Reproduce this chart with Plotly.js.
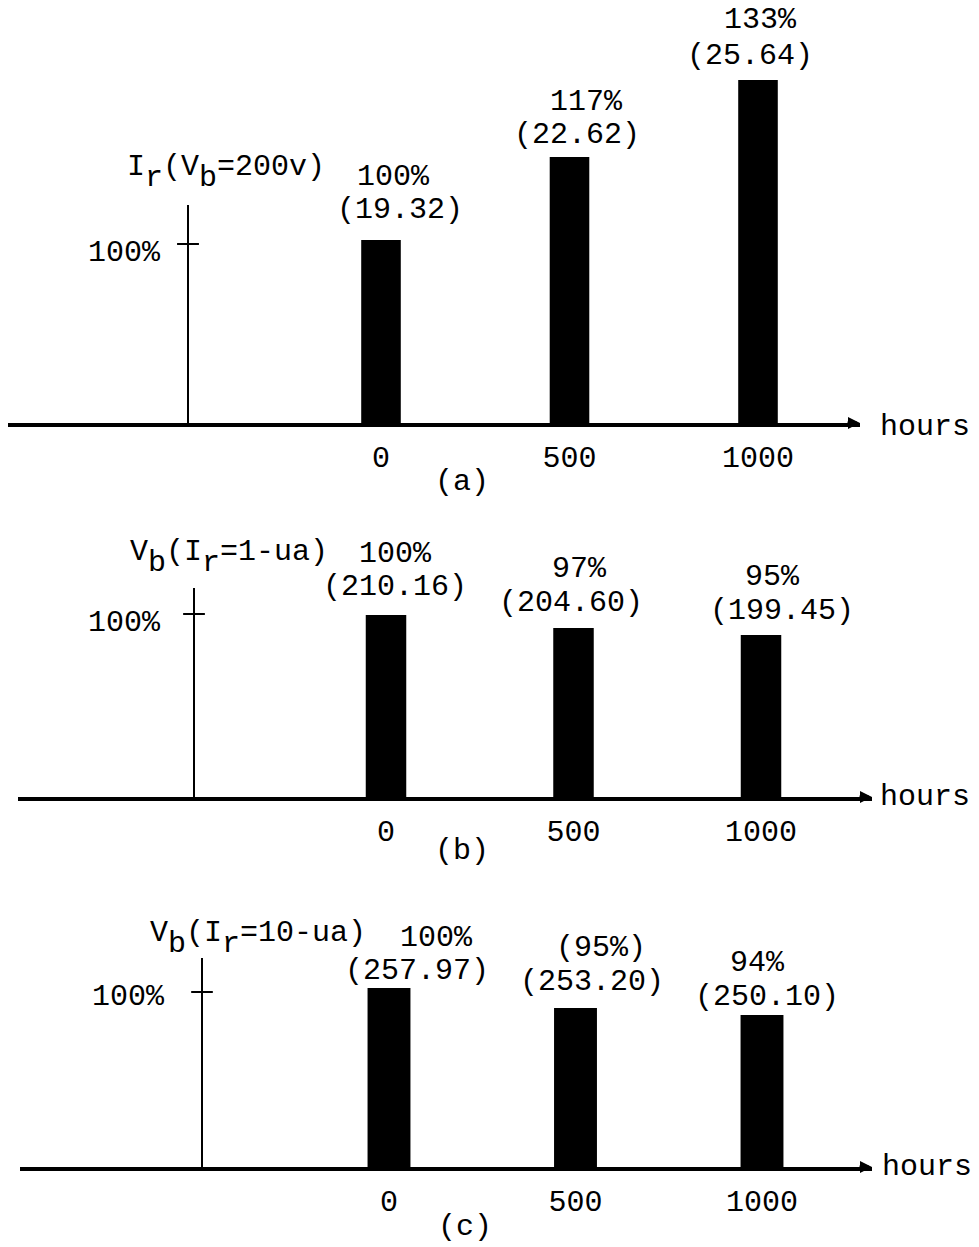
<!DOCTYPE html>
<html>
<head>
<meta charset="utf-8">
<script src="https://cdn.plot.ly/plotly-3.0.1.min.js"></script>
<style>html,body{margin:0;padding:0;background:#fff;}</style>
</head>
<body>
<div id="chart" style="width:979px;height:1247px;"></div>
<script>
// ---------- data ----------
const hours = [0, 500, 1000];
const hourLabels = ['0', '500', '1000'];

// panel (a): Ir (Vb = 200 v)
const pctA = ['100%', '117%', '133%'];
const valA = ['(19.32)', '(22.62)', '(25.64)'];
const drawnA = [102.2, 148.6, 191.6];   // bar heights as drawn, in units of the 100% tick

// panel (b): Vb (Ir = 1-ua)
const pctB = ['100%', '97%', '95%'];
const valB = ['(210.16)', '(204.60)', '(199.45)'];
const drawnB = [99.5, 92.3, 88.5];

// panel (c): Vb (Ir = 10-ua)
const pctC = ['100%', '(95%)', '94%'];
const valC = ['(257.97)', '(253.20)', '(250.10)'];
const drawnC = [102.3, 90.9, 86.9];

const titles = [
  'I<sub><sub><span style="font-size:30px">r</span></sub></sub>(V<sub><sub><span style="font-size:30px">b</span></sub></sub>=200v)',
  'V<sub><sub><span style="font-size:30px">b</span></sub></sub>(I<sub><sub><span style="font-size:30px">r</span></sub></sub>=1-ua)',
  'V<sub><sub><span style="font-size:30px">b</span></sub></sub>(I<sub><sub><span style="font-size:30px">r</span></sub></sub>=10-ua)'
];
const captions = ['(a)', '(b)', '(c)'];
const unitLabel = 'hours';
const tickLabel = '100%';

// ---------- layout geometry (styles / positions, pixels) ----------
const W = 979, H = 1247;
const FONT = 'Liberation Mono, Courier New, monospace';
const panels = [
  {pct: pctA, val: valA, h: drawnA, left: 8, right: 860, c0: 381, slope: 0.377, base: 423, top: 0, ppu: 1.79,
   barW: 105, vaxPx: 188, vaxTopPx: 205, tickLblRight: 163, tickLblDy: -9,
   titleLeft: 125, titleDy: 8, capX: 462, capY: 482, unitDx: 18, unitDy: -4,
   off: [[12, 63, 19, 30], [17, 55, 7, 22], [2, 60, -8, 24]]},
  {pct: pctB, val: valB, h: drawnB, left: 18, right: 872, c0: 386, slope: 0.375, base: 797, top: 500, ppu: 1.83,
   barW: 108, vaxPx: 194, vaxTopPx: 588, tickLblRight: 163, tickLblDy: -9,
   titleLeft: 128, titleDy: 6, capX: 462, capY: 851, unitDx: 6, unitDy: 0,
   off: [[9, 61, 9, 28], [6, 59, -3, 25], [11, 58, 21, 24]]},
  {pct: pctC, val: valC, h: drawnC, left: 20, right: 872, c0: 389, slope: 0.373, base: 1167, top: 880, ppu: 1.75,
   barW: 115, vaxPx: 202, vaxTopPx: 958, tickLblRight: 167, tickLblDy: -5,
   titleLeft: 148, titleDy: -5, capX: 465, capY: 1227, unitDx: 8, unitDy: 0,
   off: [[47, 50, 28, 17], [25, 60, 16, 26], [-5, 52, 5, 18]]}
];

const traces = [];
const layout = {
  width: W, height: H,
  margin: {l: 0, r: 0, t: 0, b: 0},
  paper_bgcolor: '#fff', plot_bgcolor: 'rgba(0,0,0,0)',
  showlegend: false,
  font: {family: FONT, color: '#000', size: 30},
  annotations: [], shapes: []
};

panels.forEach((p, i) => {
  const n = i === 0 ? '' : String(i + 1);
  const xa = 'x' + n, ya = 'y' + n;
  const x0 = (p.left - p.c0) / p.slope, x1 = (p.right - p.c0) / p.slope;
  const yMax = (p.base - p.top) / p.ppu;
  const vaxX = (p.vaxPx - p.c0) / p.slope;
  const vaxTop = (p.base - p.vaxTopPx) / p.ppu;

  traces.push({
    type: 'bar', x: hours, y: p.h, xaxis: xa, yaxis: ya,
    width: p.barW, marker: {color: '#000', line: {width: 0}},
    hoverinfo: 'skip'
  });

  layout['xaxis' + n] = {
    domain: [p.left / W, p.right / W], range: [x0, x1], anchor: ya,
    showline: true, linecolor: '#000', linewidth: 3.5,
    showgrid: false, zeroline: false, ticks: '',
    tickmode: 'array', tickvals: hours, ticktext: hourLabels,
    tickfont: {family: FONT, size: 30, color: '#000'}, ticklabelstandoff: 4,
    fixedrange: true
  };
  layout['yaxis' + n] = {
    domain: [1 - p.base / H, 1 - p.top / H], range: [0, yMax], anchor: xa,
    visible: false, showgrid: false, zeroline: false, fixedrange: true
  };

  // vertical axis and its 100% tick
  layout.shapes.push({type: 'line', xref: xa, yref: ya, x0: vaxX, x1: vaxX, y0: 0, y1: vaxTop,
    line: {color: '#000', width: 2}});
  layout.shapes.push({type: 'line', xref: xa, yref: ya, x0: vaxX - 29, x1: vaxX + 29, y0: 100, y1: 100,
    line: {color: '#000', width: 2}});

  const A = layout.annotations;
  // 100% tick label
  A.push({xref: xa, yref: ya, x: vaxX, y: 100, text: tickLabel, showarrow: false,
    xanchor: 'right', yanchor: 'middle', xshift: p.tickLblRight - p.vaxPx, yshift: p.tickLblDy,
    font: {family: FONT, size: 30}});
  // quantity title
  A.push({xref: xa, yref: ya, x: vaxX, y: vaxTop, text: titles[i], showarrow: false,
    xanchor: 'left', yanchor: 'bottom', xshift: p.titleLeft - p.vaxPx, yshift: p.titleDy,
    font: {family: FONT, size: 30}});
  // bar labels
  hours.forEach((hr, k) => {
    const o = p.off[k];
    A.push({xref: xa, yref: ya, x: hr, y: p.h[k], text: p.pct[k], showarrow: false,
      xanchor: 'center', yanchor: 'middle', xshift: o[0], yshift: o[1], font: {family: FONT, size: 30}});
    A.push({xref: xa, yref: ya, x: hr, y: p.h[k], text: p.val[k], showarrow: false,
      xanchor: 'center', yanchor: 'middle', xshift: o[2], yshift: o[3], font: {family: FONT, size: 30}});
  });
  // arrow at the right end of the time axis
  A.push({xref: xa + ' domain', yref: ya, x: 1, y: 0, text: '', showarrow: true,
    ax: -14, ay: 0, arrowhead: 2, arrowsize: 0.8, arrowwidth: 3, arrowcolor: '#000', standoff: 0});
  // unit label
  A.push({xref: xa + ' domain', yref: ya, x: 1, y: 0, text: unitLabel, showarrow: false,
    xanchor: 'left', yanchor: 'middle', xshift: p.unitDx, yshift: p.unitDy, font: {family: FONT, size: 30}});
  // caption
  A.push({xref: 'paper', yref: 'paper', x: p.capX / W, y: 1 - p.capY / H, text: captions[i], showarrow: false,
    xanchor: 'center', yanchor: 'middle', font: {family: FONT, size: 30}});
});

Plotly.newPlot('chart', traces, layout, {staticPlot: true, displayModeBar: false});
</script>
</body>
</html>
